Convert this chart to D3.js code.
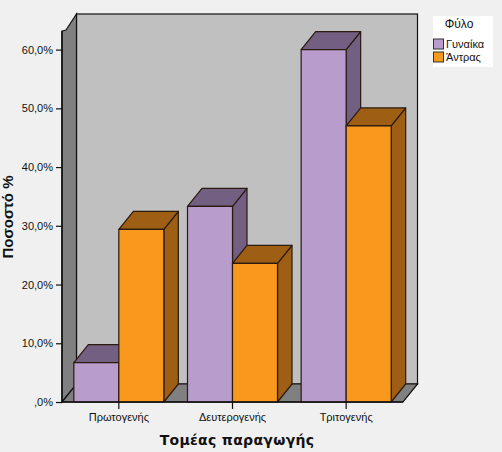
<!DOCTYPE html>
<html>
<head>
<meta charset="utf-8">
<script src="https://cdn.jsdelivr.net/npm/d3@7"></script>
<style>
  body { margin: 0; background: #f0f0f0; }
  svg { display: block; }
  text { font-family: "Liberation Sans", Arial, sans-serif; fill: #111; }
</style>
</head>
<body>
<div id="chart"></div>
<script>
// data
var categories = ["Πρωτογενής", "Δευτερογενής", "Τριτογενής"];
var series = ["Γυναίκα", "Άντρας"];
var women = [6.7, 33.3, 60.0];
var men = [29.4, 23.6, 47.0];
var yTicks = [0, 10, 20, 30, 40, 50, 60];

var values = [women, men];
var fronts = ["#b89ccb", "#f8981d"];
var darks = ["#735f82", "#9e5e14"];

var width = 502, height = 452;
var left = 62, right = 403, bottom = 402;
var dx = 14.5, dy = -18;

var svg = d3.select("#chart").append("svg")
  .attr("width", width).attr("height", height);

var y = d3.scaleLinear().domain([0, 63]).range([bottom, 32]);

var x0 = d3.scaleBand().domain(categories).range([left, right])
  .paddingInner(0.208).paddingOuter(0.104);
var x1 = d3.scaleBand().domain(series).range([0, x0.bandwidth()]);

// walls and floor
var yTop = y(63);
svg.append("rect")
  .attr("x", left + dx).attr("y", yTop + dy)
  .attr("width", right - left).attr("height", bottom - yTop)
  .attr("fill", "#c0c0c0").attr("stroke", "#111").attr("stroke-width", 1.2);

svg.append("path")
  .attr("d", "M" + left + "," + (yTop - 1) + "L" + (left + 4) + "," + (yTop - 2) + "L" + (left + dx) + "," + (yTop + dy) +
    "L" + (left + dx) + "," + (bottom + dy) + "L" + left + "," + bottom + "Z")
  .attr("fill", "#808080").attr("stroke", "#111").attr("stroke-width", 1.2);

svg.append("path")
  .attr("d", "M" + left + "," + bottom + "L" + right + "," + bottom + "L" + (right + dx) + "," + (bottom + dy) +
    "L" + (left + dx) + "," + (bottom + dy) + "Z")
  .attr("fill", "#808080").attr("stroke", "#111").attr("stroke-width", 1.2);

// bars
categories.forEach(function(c, ci) {
  series.forEach(function(s, si) {
    var bx = x0(c) + x1(s), bw = x1.bandwidth();
    var by = y(values[si][ci]);
    var g = svg.append("g").attr("stroke", "#2a1a10").attr("stroke-width", 1.2)
      .attr("stroke-linejoin", "round");
    g.append("path")
      .attr("d", "M" + (bx + bw) + "," + by + "L" + (bx + bw + dx) + "," + (by + dy) +
        "L" + (bx + bw + dx) + "," + (bottom + dy) + "L" + (bx + bw) + "," + bottom + "Z")
      .attr("fill", darks[si]);
    g.append("path")
      .attr("d", "M" + bx + "," + by + "L" + (bx + dx) + "," + (by + dy) +
        "L" + (bx + bw + dx) + "," + (by + dy) + "L" + (bx + bw) + "," + by + "Z")
      .attr("fill", darks[si]);
    g.append("rect")
      .attr("x", bx).attr("y", by).attr("width", bw).attr("height", bottom - by)
      .attr("fill", fronts[si]);
  });
});

// axes
var yAxis = d3.axisLeft(y).tickValues(yTicks).tickSize(6).tickPadding(3)
  .tickFormat(function(d) { return d === 0 ? ",0%" : d.toFixed(1).replace(".", ",") + "%"; });
var ya = svg.append("g").attr("transform", "translate(" + left + ",0)").call(yAxis);
ya.select(".domain").remove();
ya.selectAll("line").attr("stroke", "#111").attr("stroke-width", 1.2);
ya.selectAll("text").style("font-size", "11px").attr("fill", "#111");

svg.append("line").attr("x1", left).attr("x2", left).attr("y1", yTop - 1).attr("y2", bottom)
  .attr("stroke", "#111").attr("stroke-width", 1.5);
svg.append("line").attr("x1", left).attr("x2", right).attr("y1", bottom).attr("y2", bottom)
  .attr("stroke", "#111").attr("stroke-width", 1.5);

var xAxis = d3.axisBottom(x0).tickSize(7).tickPadding(4);
var xa = svg.append("g").attr("transform", "translate(0," + bottom + ")").call(xAxis);
xa.select(".domain").remove();
xa.selectAll("line").attr("stroke", "#111").attr("stroke-width", 1.2);
xa.selectAll("text").style("font-size", "11px").attr("fill", "#111");

// axis titles
svg.append("text")
  .attr("transform", "translate(13,217) rotate(-90)")
  .attr("text-anchor", "middle")
  .style("font-size", "15px").style("font-weight", "bold")
  .text("Ποσοστό %");

svg.append("text")
  .attr("x", 237).attr("y", 445)
  .attr("text-anchor", "middle")
  .style("font-family", "'DejaVu Sans', Verdana, sans-serif")
  .style("font-size", "14px").style("font-weight", "bold")
  .style("letter-spacing", "0.3px")
  .text("Τομέας παραγωγής");

// legend
var legend = svg.append("g").attr("transform", "translate(433,16)");
legend.append("rect").attr("width", 60).attr("height", 51).attr("fill", "#fff");
legend.append("text").attr("x", 26).attr("y", 12).attr("text-anchor", "middle")
  .style("font-size", "12px").text("Φύλο");
series.forEach(function(s, i) {
  var row = legend.append("g").attr("transform", "translate(0," + (23 + i * 13) + ")");
  row.append("rect").attr("x", 0.5).attr("width", 10).attr("height", 10)
    .attr("fill", fronts[i]).attr("stroke", "#333").attr("stroke-width", 1);
  row.append("text").attr("x", 13).attr("y", 9).style("font-size", "11px").text(s);
});
</script>
</body>
</html>
